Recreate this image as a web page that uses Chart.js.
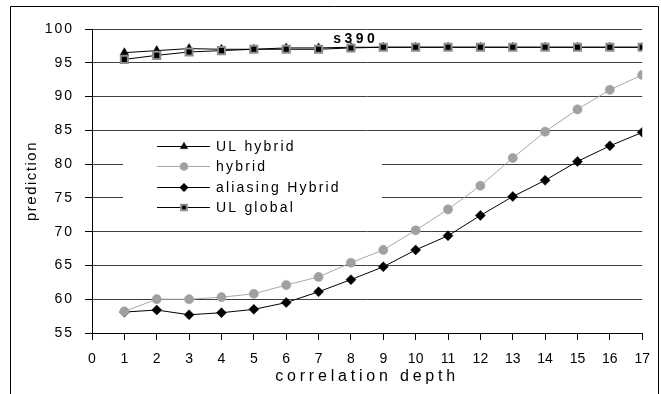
<!DOCTYPE html>
<html>
<head>
<meta charset="utf-8">
<script src="https://cdn.jsdelivr.net/npm/chart.js@4.4.0/dist/chart.umd.min.js"></script>
<style>
  html, body { margin: 0; padding: 0; background: #fff; }
  canvas { display: block; }
</style>
</head>
<body>
<canvas id="chart" width="661" height="394"></canvas>
<script>
// correlation depth on the x axis
const depths = [1, 2, 3, 4, 5, 6, 7, 8, 9, 10, 11, 12, 13, 14, 15, 16, 17];

// prediction per depth, one list per method
const ulHybrid = [96.5, 96.8, 97.1, 97.0, 97.0, 97.2, 97.2, 97.3, 97.3, 97.3, 97.3, 97.3, 97.3, 97.3, 97.3, 97.3, 97.3];
const hybrid = [58.2, 60.0, 60.0, 60.3, 60.8, 62.1, 63.3, 65.4, 67.3, 70.2, 73.3, 76.8, 80.9, 84.8, 88.1, 91.0, 93.2];
const aliasingHybrid = [58.1, 58.4, 57.7, 58.0, 58.5, 59.5, 61.1, 62.9, 64.8, 67.3, 69.4, 72.4, 75.2, 77.6, 80.4, 82.7, 84.7];
const ulGlobal = [95.5, 96.1, 96.6, 96.8, 97.0, 97.0, 97.0, 97.2, 97.3, 97.3, 97.3, 97.3, 97.3, 97.3, 97.3, 97.3, 97.3];

const seriesNames = ['UL hybrid', 'hybrid', 'aliasing Hybrid', 'UL global'];

// benchmark name written above the top curves
const benchmarkName = 's390';
const benchmarkAt = { x: 8.15, y: 98.5 };

const FONT = '"Liberation Sans", Arial, sans-serif';
Chart.defaults.font.family = FONT;
Chart.defaults.color = '#000';

function points(values) {
  return depths.map((d, i) => ({ x: d, y: values[i] }));
}

const datasets = [
  {
    label: seriesNames[0], data: points(ulHybrid), order: 1,
    borderColor: '#000', borderWidth: 1,
    pointStyle: 'triangle', pointRadius: 5,
    pointBackgroundColor: '#000', pointBorderColor: '#000', pointBorderWidth: 0.5
  },
  {
    label: seriesNames[1], data: points(hybrid), order: 1,
    borderColor: '#a8a8a8', borderWidth: 1,
    pointStyle: 'circle', pointRadius: 4.6,
    pointBackgroundColor: '#a0a0a0', pointBorderColor: '#a0a0a0', pointBorderWidth: 0.5
  },
  {
    label: seriesNames[2], data: points(aliasingHybrid), order: 1,
    borderColor: '#000', borderWidth: 1,
    pointStyle: 'rectRot', pointRadius: 5,
    pointBackgroundColor: '#000', pointBorderColor: '#000', pointBorderWidth: 0.5
  },
  {
    label: seriesNames[3], data: points(ulGlobal), order: 0,
    borderColor: '#000', borderWidth: 1,
    pointStyle: 'rect', pointRadius: 5,
    pointBackgroundColor: '#000', pointBorderColor: '#8c8c8c', pointBorderWidth: 2
  }
];

// wrap label / title drawing so the text gets some tracking
function trackText(scale, labelSpacing, titleSpacing) {
  const proto = Object.getPrototypeOf(scale);
  scale.drawLabels = function (area) {
    this.ctx.save();
    this.ctx.letterSpacing = labelSpacing;
    proto.drawLabels.call(this, area);
    this.ctx.restore();
  };
  scale.drawTitle = function () {
    this.ctx.save();
    this.ctx.letterSpacing = titleSpacing;
    proto.drawTitle.call(this);
    this.ctx.restore();
  };
}

const framePlugin = {
  id: 'frame',
  beforeDraw(chart) {
    const ctx = chart.ctx;
    ctx.save();
    ctx.fillStyle = '#fff';
    ctx.fillRect(0, 0, chart.width, chart.height);
    ctx.restore();
  },
  afterDraw(chart) {
    const ctx = chart.ctx;
    ctx.save();
    ctx.strokeStyle = '#000';
    ctx.lineWidth = 1;
    ctx.beginPath();
    ctx.moveTo(10.5, chart.height);
    ctx.lineTo(10.5, 6.5);
    ctx.lineTo(658.5, 6.5);
    ctx.lineTo(658.5, chart.height);
    ctx.stroke();
    ctx.restore();
  }
};

const benchmarkPlugin = {
  id: 'benchmark',
  afterDatasetsDraw(chart) {
    const ctx = chart.ctx;
    const x = chart.scales.x.getPixelForValue(benchmarkAt.x);
    const y = chart.scales.y.getPixelForValue(benchmarkAt.y);
    ctx.save();
    ctx.font = 'bold 14px ' + FONT;
    ctx.letterSpacing = '3.5px';
    ctx.fillStyle = '#000';
    ctx.textAlign = 'center';
    ctx.textBaseline = 'middle';
    ctx.fillText(benchmarkName, x, y);
    ctx.restore();
  }
};

// legend box sitting inside the plot, over the grid lines
const legendPlugin = {
  id: 'boxLegend',
  afterDatasetsDraw(chart) {
    const ctx = chart.ctx;
    const box = { left: 123, top: 134, width: 259, height: 95 };
    const rows = [146, 166, 187, 207];
    ctx.save();
    ctx.fillStyle = '#fff';
    ctx.fillRect(box.left, box.top, box.width, box.height);
    chart.data.datasets.forEach((ds, i) => {
      const y = rows[i];
      ctx.strokeStyle = ds.borderColor;
      ctx.lineWidth = ds.borderWidth;
      ctx.beginPath();
      ctx.moveTo(157, y + 0.5);
      ctx.lineTo(210, y + 0.5);
      ctx.stroke();
      ctx.fillStyle = ds.pointBackgroundColor;
      ctx.strokeStyle = ds.pointBorderColor;
      ctx.lineWidth = ds.pointBorderWidth;
      Chart.helpers.drawPoint(ctx, {
        pointStyle: ds.pointStyle,
        radius: ds.pointStyle === 'rect' ? 4 : ds.pointRadius * 0.85,
        borderWidth: ds.pointBorderWidth,
        rotation: 0
      }, 184, y + 0.5);
      ctx.fillStyle = '#000';
      ctx.font = '14px ' + FONT;
      ctx.letterSpacing = '2.2px';
      ctx.textAlign = 'left';
      ctx.textBaseline = 'middle';
      ctx.fillText(ds.label, 216, y + 1);
    });
    ctx.restore();
  }
};

new Chart(document.getElementById('chart'), {
  type: 'line',
  data: { datasets: datasets },
  plugins: [framePlugin, benchmarkPlugin, legendPlugin],
  options: {
    responsive: false,
    animation: false,
    layout: { padding: { top: 29, right: 13, bottom: 0, left: 0 } },
    plugins: {
      legend: { display: false },
      tooltip: { enabled: false }
    },
    scales: {
      x: {
        type: 'linear',
        min: 0,
        max: 17,
        ticks: {
          stepSize: 1, autoSkip: false, maxRotation: 0,
          padding: 11, color: '#000',
          font: { size: 14 }
        },
        grid: { drawOnChartArea: false, color: '#000', tickLength: 7 },
        border: { color: '#000', width: 1 },
        title: {
          display: true, text: 'correlation depth', color: '#000',
          font: { size: 16 }, padding: { top: 0, bottom: 8 }
        },
        afterFit: s => { s.height = 61; },
        afterUpdate: s => trackText(s, '0px', '3.8px')
      },
      y: {
        min: 55,
        max: 100,
        ticks: {
          stepSize: 5, padding: 11, color: '#000',
          font: { size: 14 }
        },
        grid: { color: '#404040', tickColor: '#000', tickLength: 7 },
        border: { color: '#000', width: 1 },
        title: {
          display: true, text: 'prediction', color: '#000',
          font: { size: 15 }, padding: { top: 23, bottom: 0 }
        },
        afterFit: s => { s.width = 92; },
        afterUpdate: s => trackText(s, '2px', '1.5px')
      }
    }
  }
});
</script>
</body>
</html>
